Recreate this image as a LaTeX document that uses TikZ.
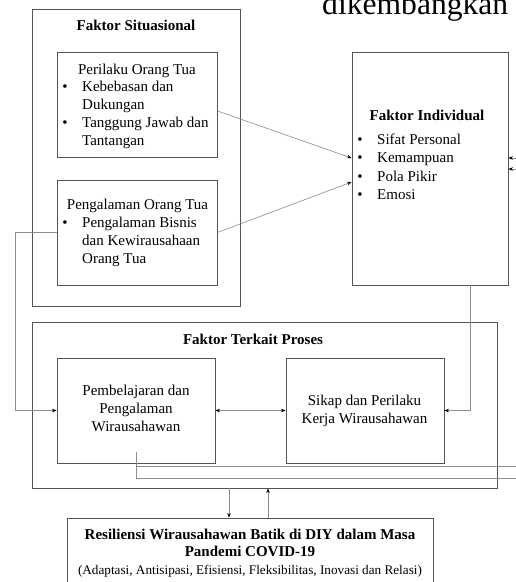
\documentclass[tikz,border=0pt]{standalone}
\usepackage{fontspec}
\setmainfont{Liberation Serif}
\usetikzlibrary{arrows.meta}
\definecolor{boxc}{gray}{0.33}
\definecolor{connc}{gray}{0.55}
\begin{document}
\begin{tikzpicture}[x=1pt,y=-1pt,
  box/.style={draw=boxc, line width=0.9pt, inner sep=0pt, fill=none},
  conn/.style={draw=connc, line width=0.6pt},
  arr/.style={conn, -{Stealth[length=4.5pt,width=3.5pt,black]}},
  barr/.style={conn, {Stealth[length=4.5pt,width=3.5pt,black]}-{Stealth[length=4.5pt,width=3.5pt,black]}},
  txt/.style={inner sep=0pt, font=\fontsize{15}{18}\selectfont},
  btxt/.style={txt, font=\fontsize{15}{18}\selectfont\bfseries},
  stxt/.style={inner sep=0pt, font=\fontsize{13.2}{16}\selectfont},
  bul/.style={txt, anchor=mid}
]
\useasboundingbox (0,0) rectangle (516,582);
\clip (0,0) rectangle (516,582);
\fill[white] (0,0) rectangle (516,582);

% partial heading at top
\node[inner sep=0pt, anchor=base west, font=\fontsize{31.6}{36}\selectfont] (head) at (322,14) {dikembangkan};

% boxes
\node[box, minimum width=208pt, minimum height=297pt] (sit) at (136,157.5) {};
\node[box, minimum width=160pt, minimum height=105pt] (per) at (137,104.5) {};
\node[box, minimum width=160pt, minimum height=105pt] (pen) at (137,232.5) {};
\node[box, minimum width=156pt, minimum height=233pt] (ind) at (430,168.5) {};
\node[box, minimum width=465pt, minimum height=166pt] (pro) at (264.5,405) {};
\node[box, minimum width=158pt, minimum height=105pt] (pem) at (136,410.5) {};
\node[box, minimum width=158pt, minimum height=105pt] (sik) at (365,410.5) {};
\node[box, minimum width=366pt, minimum height=80pt] (res) at (250,558) {};

% Faktor Situasional
\node[btxt, anchor=mid] (sitT) at (136,28) {Faktor Situasional};
\node[txt, anchor=mid] (perT) at (137,72) {Perilaku Orang Tua};
\node[bul] (perB1) at (65,89) {\textbullet};
\node[txt, anchor=mid west] (perL1) at (82,89) {Kebebasan dan};
\node[txt, anchor=mid west] (perL2) at (82,107) {Dukungan};
\node[bul] (perB2) at (65,125) {\textbullet};
\node[txt, anchor=mid west] (perL3) at (82,125) {Tanggung Jawab dan};
\node[txt, anchor=mid west] (perL4) at (82,143) {Tantangan};

\node[txt, anchor=mid] (penT) at (137.5,207) {Pengalaman Orang Tua};
\node[bul] (penB1) at (65,225) {\textbullet};
\node[txt, anchor=mid west] (penL1) at (82,225) {Pengalaman Bisnis};
\node[txt, anchor=mid west] (penL2) at (82,243) {dan Kewirausahaan};
\node[txt, anchor=mid west] (penL3) at (82,261) {Orang Tua};

% Faktor Individual
\node[btxt, anchor=mid] (indT) at (427,118) {Faktor Individual};
\node[bul] (indB1) at (360,142) {\textbullet};
\node[txt, anchor=mid west] (indL1) at (377,142) {Sifat Personal};
\node[bul] (indB2) at (360,160.5) {\textbullet};
\node[txt, anchor=mid west] (indL2) at (377,160.5) {Kemampuan};
\node[bul] (indB3) at (360,179) {\textbullet};
\node[txt, anchor=mid west] (indL3) at (377,179) {Pola Pikir};
\node[bul] (indB4) at (360,197) {\textbullet};
\node[txt, anchor=mid west] (indL4) at (377,197) {Emosi};

% Faktor Terkait Proses
\node[btxt, anchor=mid] (proT) at (253,342) {Faktor Terkait Proses};
\node[txt, anchor=mid] (pemL1) at (136,393) {Pembelajaran dan};
\node[txt, anchor=mid] (pemL2) at (136,411) {Pengalaman};
\node[txt, anchor=mid] (pemL3) at (136,429) {Wirausahawan};
\node[txt, anchor=mid] (sikL1) at (364.5,403) {Sikap dan Perilaku};
\node[txt, anchor=mid] (sikL2) at (364.5,421) {Kerja Wirausahawan};

% Resiliensi
\node[btxt, anchor=mid] (resL1) at (250,537) {Resiliensi Wirausahawan Batik di DIY dalam Masa};
\node[btxt, anchor=mid] (resL2) at (250,554.5) {Pandemi COVID-19};
\node[stxt, anchor=mid] (resL3) at (250,572) {(Adaptasi, Antisipasi, Efisiensi, Fleksibilitas, Inovasi dan Relasi)};

% edge coordinates
\coordinate (r1) at (516,466);
\coordinate (r2) at (516,478);
\coordinate (r3) at (516,158);
\coordinate (r4) at (516,169);

% connectors
\draw[arr] ([yshift=-6.5pt]per.east) -- ([yshift=10.5pt]ind.west);
\draw[arr] (pen.east) -- ([yshift=-13.5pt]ind.west);
\draw[arr] (pen.west) -- ++(-41,0) |- (pem.west);
\draw[arr] ([xshift=40pt]ind.south) |- (sik.east);
\draw[barr] (pem.east) -- (sik.west);
\draw[conn] ([yshift=11pt]pem.south) |- (r2);
\draw[conn] (pem.south |- r1) -- (r1);
\draw[arr] (r3) -- (r3 -| ind.east);
\draw[arr] (r4) -- (r4 -| ind.east);
\draw[arr] ([xshift=-35.5pt]pro.south) -- ([xshift=-35.5pt]pro.south |- res.north);
\draw[arr] ([xshift=18pt]res.north) -- ([xshift=18pt]res.north |- pro.south);
\end{tikzpicture}
\end{document}
